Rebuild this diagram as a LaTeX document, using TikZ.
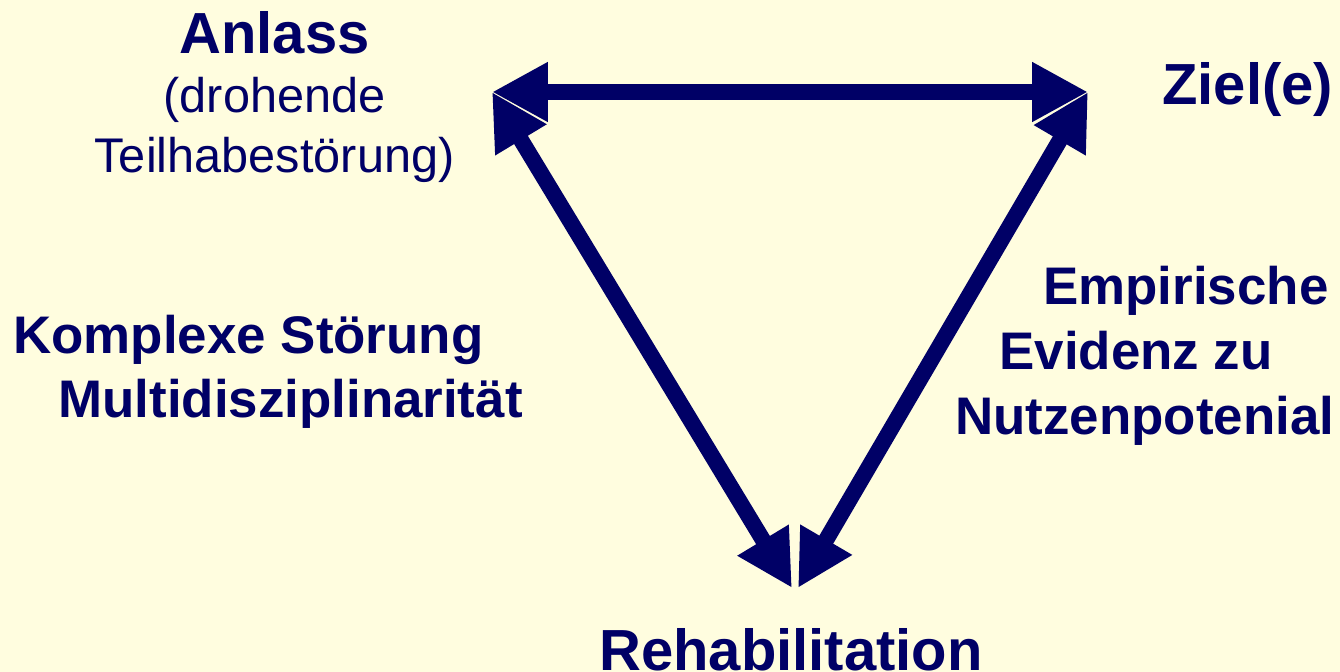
\documentclass[tikz,border=0pt]{standalone}
\usepackage{fontspec}
\setmainfont{Liberation Sans}
\usetikzlibrary{arrows.meta}
\definecolor{bgc}{HTML}{FFFDDF}
\definecolor{navy}{HTML}{000066}
\begin{document}
\begin{tikzpicture}[x=0.02cm,y=-0.02cm,
  head/.style={inner sep=0pt,text=navy,font=\fontsize{33}{38}\selectfont\bfseries},
  lbl/.style={inner sep=0pt,text=navy,font=\fontsize{30.1}{35}\selectfont\bfseries},
  sub/.style={inner sep=0pt,text=navy,font=\fontsize{27.7}{32}\selectfont},
  tri/.tip={Triangle[length=1.12cm,width=1.12cm]},
  arr/.style={draw=navy,line width=0.32cm,tri-tri}]
\fill[bgc] (0,0) rectangle (1340,672);
\useasboundingbox (0,0) rectangle (1340,672);
% corner coordinates
\coordinate (A) at (492,92);
\coordinate (Z) at (1088,92);
\coordinate (R1) at (792,588);
\coordinate (R2) at (798,588);
% connectors
\draw[arr] (A) -- (Z);
\draw[arr] (A) -- (R1);
\draw[arr] (Z) -- (R2);
% labels
\node[head,anchor=base] (anlass) at (274.5,54) {Anlass};
\node[sub,anchor=base] (dro) at (274.5,113) {(drohende};
\node[sub,anchor=base] (teil) at (274.5,173) {Teilhabestörung)};
\node[head,anchor=base west] (ziel) at (1162,105) {Ziel(e)};
\node[lbl,anchor=base west] (emp) at (1043,305) {Empirische};
\node[lbl,anchor=base west] (evi) at (999,370) {Evidenz zu};
\node[lbl,anchor=base west] (nutz) at (955,435) {Nutzenpotenial};
\node[lbl,anchor=base west] (komp) at (13,354) {Komplexe Störung};
\node[lbl,anchor=base west] (multi) at (58,418) {Multidisziplinarität};
\node[head,anchor=base west] (reha) at (599,670) {Rehabilitation};
\end{tikzpicture}
\end{document}
